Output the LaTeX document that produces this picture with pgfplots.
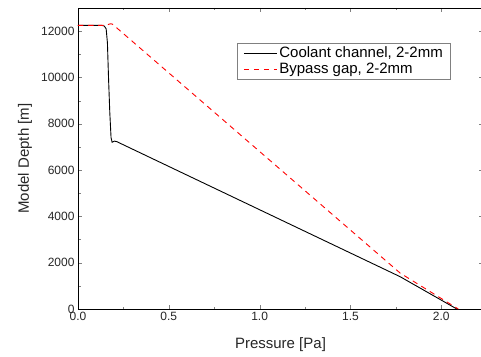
\documentclass[border=0pt]{standalone}
\usepackage{pgfplots}
\pgfplotsset{compat=1.18}
\usepackage{fontspec}
\setmainfont{Liberation Sans}
\begin{document}
\begin{tikzpicture}
\useasboundingbox (-78pt,-47pt) rectangle (403pt,309pt);
\clip (-78pt,-47pt) rectangle (403pt,309pt);
\begin{axis}[
  scale only axis,
  width=405pt, height=301pt,
  xmin=0, xmax=2.23, ymin=0, ymax=13000,
  scaled y ticks=false, scaled x ticks=false,
  xtick={0,0.5,1.0,1.5,2.0},
  minor xtick={0.25,0.75,1.25,1.75,2.25},
  ytick={0,2000,4000,6000,8000,10000,12000},
  minor ytick={1000,3000,5000,7000,9000,11000},
  tick align=inside,
  major tick length=4pt, minor tick length=2.5pt,
  xticklabel style={/pgf/number format/fixed, /pgf/number format/fixed zerofill, /pgf/number format/precision=1},
  yticklabel style={/pgf/number format/fixed, /pgf/number format/set thousands separator={}},
  /pgf/number format/assume math mode=true,
  tick label style={font=\fontsize{12}{14}\selectfont, color=black!85},
  xlabel={Pressure [Pa]},
  ylabel={Model Depth [m]},
  every axis x label/.style={at={([yshift=-36pt]axis description cs:0.5,0)}, anchor=center,
    font=\fontsize{15}{17}\selectfont, color=black!85},
  every axis y label/.style={at={([xshift=-53pt]axis description cs:0,0.5)}, rotate=90, anchor=center,
    font=\fontsize{15}{17}\selectfont, color=black!85},
  axis line style={black, line width=0.8pt},
  legend style={at={(0.393,0.885)}, anchor=north west, draw=black!50, line width=0.6pt,
    font=\fontsize{15}{17}\selectfont, inner xsep=6pt, inner ysep=2pt, row sep=0pt, cells={anchor=west}},
  legend cell align=left,
  legend image code/.code={\draw[#1] (0pt,0pt) -- (33pt,0pt);},
]
\addplot[black, line width=0.9pt] coordinates {
 (0,12250) (0.13,12250) (0.145,12220) (0.155,12100) (0.162,11500) (0.168,10000)
 (0.175,8500) (0.182,7400) (0.188,7200) (0.2,7250) (0.213,7230)
 (1.774,1394) (2.086,0)
};
\addlegendentry{Coolant channel, 2-2mm}
\addplot[red, line width=0.9pt, dash pattern=on 5.5pt off 4.5pt] coordinates {
 (0,12250) (0.15,12250) (0.18,12320) (0.19,12300)
 (1.774,1550) (2.094,0)
};
\addlegendentry{Bypass gap, 2-2mm}
\end{axis}
\end{tikzpicture}
\end{document}
